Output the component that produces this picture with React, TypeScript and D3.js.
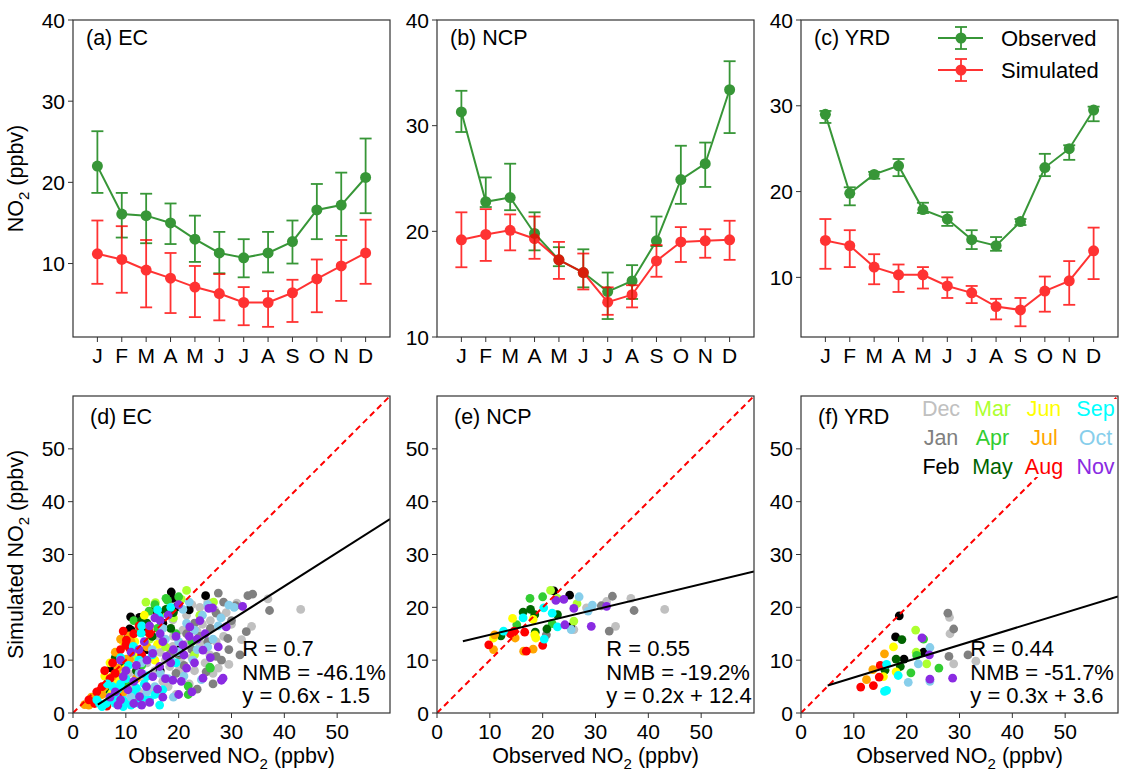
import * as d3 from "d3";

const FONT = "'Liberation Sans', Arial, Helvetica, sans-serif";

// ---- top row: monthly means with error bars, [mean, low, high] ----
const monthTicks = ["J", "F", "M", "A", "M", "J", "J", "A", "S", "O", "N", "D"];

const ecObserved = [
  [22.0, 18.7, 26.3], [16.1, 13.2, 18.7], [15.9, 12.5, 18.6], [15.0, 12.4, 17.4],
  [13.0, 10.2, 15.9], [11.3, 8.8, 13.9], [10.7, 8.3, 13.0], [11.3, 8.9, 13.9],
  [12.7, 10.0, 15.3], [16.6, 13.0, 19.8], [17.2, 13.4, 21.2], [20.6, 16.2, 25.4],
];
const ecSimulated = [
  [11.2, 7.5, 15.3], [10.5, 6.4, 14.6], [9.2, 4.6, 12.9], [8.2, 3.9, 11.3],
  [7.1, 3.4, 9.7], [6.3, 3.0, 8.7], [5.2, 2.4, 7.1], [5.2, 2.2, 6.6],
  [6.4, 2.8, 8.0], [8.1, 4.0, 10.5], [9.7, 5.4, 12.9], [11.3, 7.5, 15.4],
];
const ncpObserved = [
  [31.3, 29.4, 33.3], [22.8, 22.3, 25.1], [23.2, 22.0, 26.4], [19.8, 18.2, 21.8],
  [17.3, 16.7, 18.5], [16.1, 14.7, 18.3], [14.3, 11.7, 16.1], [15.3, 13.6, 16.8],
  [19.1, 18.6, 21.4], [24.9, 22.6, 28.1], [26.4, 24.2, 28.4], [33.4, 29.3, 36.1],
];
const ncpSimulated = [
  [19.2, 16.6, 21.8], [19.7, 17.2, 22.1], [20.1, 18.2, 21.6], [19.3, 17.4, 21.4],
  [17.3, 15.5, 19.0], [16.1, 14.5, 17.9], [13.3, 12.1, 14.7], [14.0, 12.8, 14.9],
  [17.2, 15.7, 18.7], [19.0, 17.1, 20.4], [19.1, 17.5, 20.2], [19.2, 17.3, 21.0],
];
const yrdObserved = [
  [29.0, 28.0, 29.4], [19.8, 18.4, 20.5], [22.0, 21.5, 22.3], [23.0, 21.8, 23.8],
  [17.9, 17.5, 18.7], [16.8, 16.0, 17.6], [14.4, 13.3, 15.5], [13.7, 13.1, 14.7],
  [16.5, 16.1, 16.8], [22.8, 21.8, 24.4], [25.0, 23.7, 25.4], [29.5, 28.2, 29.9],
];
const yrdSimulated = [
  [14.3, 11.0, 16.8], [13.7, 11.2, 15.5], [11.2, 9.2, 12.7], [10.3, 8.3, 11.5],
  [10.3, 8.7, 11.2], [9.0, 7.6, 10.0], [8.2, 7.0, 9.0], [6.6, 5.1, 7.5],
  [6.2, 4.3, 7.6], [8.4, 6.0, 10.1], [9.6, 6.8, 11.9], [13.1, 9.8, 15.8],
];

// ---- bottom row: scatter, [monthIndex, observed, simulated] ----
const monthNames = ["Dec", "Jan", "Feb", "Mar", "Apr", "May", "Jun", "Jul", "Aug", "Sep", "Oct", "Nov"];
const monthColors = [
  "#c0c0c0", "#808080", "#000000", "#adff2f", "#32cd32", "#006400",
  "#ffff00", "#ffa500", "#ff0000", "#00ffff", "#87ceeb", "#8a2be2",
];

const ecScatter = [
  [0, 43.1, 19.6], [0, 36.9, 21.6], [0, 33.8, 16.4], [0, 31.9, 13.9], [0, 28.1, 18.2], [0, 27.1, 13.5],
  [0, 25.9, 11.0], [0, 24.0, 13.2], [0, 18.9, 17.6], [0, 20.8, 15.7], [0, 22.5, 20.5], [0, 25.5, 21.0],
  [0, 30.0, 16.8], [0, 29.5, 9.2], [0, 26.5, 7.5], [0, 23.0, 8.0], [0, 20.5, 10.5], [0, 18.3, 8.8],
  [0, 15.8, 3.7], [0, 13.2, 1.8], [0, 12.0, 6.9], [0, 8.2, 6.2], [0, 7.6, 8.9], [0, 18.9, 12.6],
  [0, 16.5, 11.5], [0, 21.5, 18.5], [0, 28.5, 14.5], [0, 24.5, 16.8], [0, 31.0, 20.8], [0, 17.0, 6.0],
  [0, 14.0, 9.5], [0, 22.0, 5.5], [0, 19.5, 3.5], [0, 26.8, 19.5],
  [0, 9.5, 3.5], [0, 11.0, 5.0], [0, 12.5, 4.0], [0, 13.5, 6.5], [0, 14.5, 4.5], [0, 15.5, 8.0],
  [0, 17.5, 10.0], [0, 19.0, 14.5], [0, 20.0, 8.0], [0, 21.5, 13.0], [0, 22.5, 10.5], [0, 23.5, 15.5],
  [0, 25.0, 9.5], [0, 26.0, 17.5], [0, 16.5, 14.0], [0, 18.0, 5.0], [0, 10.5, 7.5], [0, 14.0, 12.5],
  [0, 27.5, 8.5], [0, 29.0, 19.0], [0, 24.0, 20.0], [0, 12.0, 3.0],
  [1, 33.1, 22.2], [1, 37.2, 19.4], [1, 31.6, 11.0], [1, 27.5, 22.7], [1, 30.8, 20.3], [1, 27.1, 18.9],
  [1, 32.8, 15.4], [1, 29.3, 14.1], [1, 27.1, 10.7], [1, 28.1, 10.0], [1, 25.2, 7.8], [1, 34.0, 22.5],
  [1, 24.0, 14.5], [1, 22.5, 12.0], [1, 21.0, 9.0], [1, 26.0, 16.0], [1, 19.5, 7.5], [1, 29.5, 12.0],
  [1, 23.5, 4.5], [1, 28.5, 21.0], [1, 20.0, 11.0], [1, 23.0, 17.0], [1, 25.5, 13.5], [1, 26.5, 5.5],
  [1, 30.0, 17.5], [1, 18.5, 11.5], [1, 21.5, 15.0],
  [2, 18.6, 22.9], [2, 10.9, 18.2], [2, 10.7, 15.9], [2, 25.1, 22.2], [2, 18.9, 21.7], [2, 7.3, 8.5],
  [2, 12.6, 18.1], [2, 11.0, 15.7], [2, 15.5, 19.5], [2, 20.5, 12.5], [2, 17.0, 17.0], [2, 14.0, 12.0],
  [2, 22.0, 19.5], [2, 16.5, 8.0], [2, 19.5, 20.0], [2, 13.5, 15.5],
  [3, 21.5, 23.2], [3, 13.8, 21.0], [3, 26.6, 21.0], [3, 15.6, 20.9], [3, 19.0, 18.0], [3, 14.5, 14.0],
  [3, 9.0, 7.0], [3, 24.0, 18.5], [3, 6.5, 4.0], [3, 12.0, 10.5], [3, 23.0, 11.0], [3, 17.5, 12.5],
  [3, 20.5, 21.5], [3, 16.5, 18.5], [3, 10.5, 12.5],
  [4, 14.4, 19.3], [4, 17.6, 21.7], [4, 20.0, 22.0], [4, 21.8, 3.5], [4, 25.9, 8.7], [4, 17.9, 21.3],
  [4, 12.6, 15.7], [4, 26.0, 8.5], [4, 21.8, 5.1], [4, 11.5, 17.5], [4, 16.0, 16.0], [4, 8.5, 11.0],
  [4, 19.5, 15.0], [4, 13.0, 9.0], [4, 22.5, 13.5], [4, 10.0, 5.5], [4, 15.5, 20.5], [4, 18.5, 19.5],
  [5, 16.3, 19.1], [5, 17.6, 19.6], [5, 5.7, 4.3], [5, 5.8, 4.4], [5, 13.0, 17.5], [5, 10.5, 14.5],
  [5, 8.0, 10.5], [5, 15.0, 14.5], [5, 18.5, 16.0], [5, 12.0, 8.0], [5, 20.0, 11.5], [5, 19.0, 19.0],
  [5, 14.0, 17.0], [5, 9.5, 9.0], [5, 7.0, 5.0],
  [6, 14.5, 16.3], [6, 5.1, 3.8], [6, 11.7, 13.5], [6, 9.5, 13.5], [6, 7.0, 9.5], [6, 13.5, 18.5],
  [6, 4.0, 3.0], [6, 16.0, 13.0], [6, 8.5, 6.0], [6, 11.0, 4.0], [6, 6.0, 7.0], [6, 15.5, 10.0],
  [6, 3.5, 1.8], [6, 10.0, 8.5], [6, 5.5, 4.5], [6, 7.5, 4.0], [6, 12.5, 11.5],
  [7, 10.6, 14.6], [7, 10.1, 10.2], [7, 2.2, 1.6], [7, 10.4, 12.9], [7, 10.7, 10.1], [7, 9.0, 14.0],
  [7, 3.0, 1.5], [7, 7.5, 7.0], [7, 5.5, 3.5], [7, 12.0, 6.5], [7, 8.0, 11.5], [7, 14.0, 12.5],
  [7, 6.5, 2.0], [7, 9.5, 4.0], [7, 3.5, 3.0], [7, 4.5, 2.0], [7, 6.0, 5.0], [7, 8.5, 8.5],
  [7, 11.0, 13.5],
  [8, 10.0, 12.9], [8, 10.7, 12.3], [8, 14.5, 15.0], [8, 6.4, 1.3], [8, 4.1, 1.8], [8, 14.4, 15.4],
  [8, 10.1, 13.8], [8, 9.5, 15.5], [8, 11.5, 15.0], [8, 12.5, 16.5], [8, 7.5, 9.5], [8, 5.5, 5.0],
  [8, 13.0, 11.0], [8, 8.5, 3.0], [8, 16.0, 18.5], [8, 6.0, 8.0], [8, 11.0, 2.5], [8, 4.5, 4.0],
  [8, 3.0, 2.5], [8, 7.0, 6.5], [8, 8.0, 7.5], [8, 9.0, 12.0],
  [9, 16.3, 18.2], [9, 9.5, 2.4], [9, 12.0, 4.7], [9, 12.9, 15.1], [9, 6.3, 1.8], [9, 9.5, 1.2],
  [9, 7.6, 3.1], [9, 11.4, 12.6], [9, 17.0, 4.4], [9, 16.4, 1.5], [9, 4.5, 2.5], [9, 8.5, 4.5],
  [9, 14.0, 7.0], [9, 10.5, 9.0], [9, 13.5, 3.0], [9, 11.0, 1.5], [9, 6.5, 5.5], [9, 15.0, 11.0],
  [9, 18.5, 20.0], [9, 19.5, 9.5], [9, 8.0, 1.8], [9, 12.5, 10.0], [9, 5.5, 1.2], [9, 7.0, 2.5],
  [9, 8.0, 3.5], [9, 9.0, 5.5], [9, 10.0, 2.0], [9, 11.5, 3.5], [9, 12.5, 1.8], [9, 13.5, 5.5],
  [9, 14.5, 2.5], [9, 15.5, 3.5], [9, 10.0, 6.5], [9, 7.5, 5.0], [9, 5.0, 1.8], [9, 13.0, 16.5],
  [9, 16.0, 19.5], [9, 9.0, 10.5],
  [10, 24.3, 6.3], [10, 20.8, 19.6], [10, 29.5, 20.4], [10, 23.0, 15.7], [10, 22.7, 10.0], [10, 19.9, 11.6],
  [10, 21.5, 17.0], [10, 25.5, 12.5], [10, 17.5, 14.0], [10, 15.5, 5.0], [10, 19.0, 3.0], [10, 12.5, 7.5],
  [10, 27.5, 16.5], [10, 22.0, 21.0], [10, 14.0, 4.0], [10, 18.0, 6.5], [10, 16.5, 7.5], [10, 18.5, 10.0],
  [10, 20.0, 13.5], [10, 21.0, 7.0], [10, 23.5, 12.0], [10, 24.5, 18.5], [10, 17.0, 16.0], [10, 13.0, 9.5],
  [10, 11.0, 3.0], [10, 15.0, 12.0], [10, 26.5, 14.0], [10, 25.5, 20.5], [10, 28.0, 18.0], [10, 30.5, 20.0],
  [11, 26.4, 19.9], [11, 29.0, 16.3], [11, 28.4, 6.6], [11, 32.1, 20.2], [11, 25.7, 19.8], [11, 28.1, 6.2],
  [11, 24.6, 6.6], [11, 22.1, 16.3], [11, 24.6, 11.9], [11, 20.8, 12.9], [11, 9.5, 6.9], [11, 10.4, 4.4],
  [11, 12.6, 3.1], [11, 13.9, 5.0], [11, 15.1, 6.9], [11, 16.4, 8.8], [11, 15.1, 11.3], [11, 17.7, 10.7],
  [11, 18.9, 6.2], [11, 14.5, 2.0], [11, 12.0, 9.0], [11, 16.5, 15.0], [11, 19.5, 14.5], [11, 11.0, 11.5],
  [11, 21.5, 8.5], [11, 18.0, 18.5], [11, 13.5, 13.5], [11, 8.0, 4.0], [11, 17.0, 3.0], [11, 22.5, 4.0],
  [11, 20.0, 20.5], [11, 23.5, 14.0], [11, 11.5, 1.8], [11, 15.5, 18.0], [11, 7.0, 3.0], [11, 9.0, 2.5],
  [11, 10.0, 8.0], [11, 11.5, 6.0], [11, 13.0, 7.5], [11, 14.0, 10.0], [11, 16.0, 4.5], [11, 17.5, 6.5],
  [11, 18.5, 9.5], [11, 19.0, 12.0], [11, 20.5, 6.0], [11, 21.0, 11.0], [11, 22.0, 14.5], [11, 23.0, 9.5],
  [11, 24.0, 17.5], [11, 25.0, 15.0], [11, 26.0, 10.5], [11, 12.5, 12.0], [11, 14.5, 16.5], [11, 17.0, 13.5],
  [11, 9.0, 10.0], [11, 8.5, 1.5], [11, 13.0, 1.5], [11, 20.0, 3.5], [11, 16.5, 17.5], [11, 27.5, 12.5],
];

const ncpScatter = [
  [0, 25.9, 15.8], [0, 28.3, 19.9], [0, 32.1, 21.1], [0, 33.8, 16.4], [0, 36.7, 21.7], [0, 43.1, 19.6],
  [1, 31.1, 20.3], [1, 33.2, 22.1], [1, 32.6, 15.5], [1, 37.3, 19.4], [1, 20.7, 14.8],
  [2, 22.1, 23.1], [2, 25.1, 22.3], [2, 25.3, 16.3],
  [3, 21.5, 23.2], [3, 22.8, 21.7], [3, 25.9, 17.4], [3, 26.5, 20.7],
  [4, 15.1, 16.7], [4, 17.6, 21.7], [4, 20.0, 22.0], [4, 21.8, 16.9],
  [5, 12.1, 14.6], [5, 16.3, 19.1], [5, 17.7, 19.6], [5, 18.5, 18.6], [5, 18.6, 15.3], [5, 20.8, 15.9],
  [5, 22.8, 18.6],
  [6, 10.7, 14.2], [6, 14.3, 17.9], [6, 18.5, 14.8], [6, 18.7, 14.2], [6, 18.2, 17.7],
  [7, 10.7, 12.0], [7, 14.8, 14.2], [7, 16.4, 11.7], [7, 18.2, 12.1], [7, 10.9, 14.8],
  [8, 9.8, 12.9], [8, 13.9, 15.0], [8, 14.6, 15.5], [8, 16.9, 11.7], [8, 20.0, 12.8], [8, 16.6, 15.3],
  [9, 12.6, 15.5], [9, 16.3, 18.0], [9, 20.3, 14.0], [9, 22.8, 16.3], [9, 21.8, 18.9], [9, 20.2, 19.9],
  [10, 26.9, 22.0], [10, 28.6, 19.3], [10, 29.4, 20.4], [10, 25.4, 15.8],
  [11, 22.5, 21.3], [11, 24.0, 21.5], [11, 25.9, 19.8], [11, 24.2, 16.7], [11, 29.2, 16.4], [11, 32.1, 20.2],
];

const yrdScatter = [
  [0, 28.1, 18.1], [0, 28.2, 15.0], [0, 28.9, 9.3], [0, 33.1, 9.8],
  [1, 27.8, 18.9], [1, 28.9, 15.9], [1, 28.0, 10.7], [1, 31.6, 11.0],
  [2, 18.6, 18.4], [2, 17.9, 14.4], [2, 19.5, 10.2], [2, 23.2, 11.5],
  [3, 21.7, 15.7], [3, 23.8, 9.3], [3, 21.8, 11.5],
  [4, 20.8, 7.6], [4, 21.9, 10.9], [4, 26.1, 8.5], [4, 23.2, 14.0],
  [5, 15.9, 8.1], [5, 18.0, 10.2], [5, 18.8, 8.8], [5, 19.1, 13.9],
  [6, 15.6, 6.9], [6, 17.5, 12.5], [6, 18.0, 7.8],
  [7, 12.4, 6.3], [7, 13.6, 8.2], [7, 15.8, 11.2],
  [8, 11.3, 4.9], [8, 13.7, 5.2], [8, 14.8, 6.8], [8, 15.0, 9.0],
  [9, 15.8, 4.1], [9, 16.2, 4.3], [9, 16.2, 9.2], [9, 18.4, 7.1],
  [10, 20.3, 5.8], [10, 22.2, 9.3], [10, 24.4, 12.4], [10, 24.4, 6.0],
  [11, 22.9, 14.2], [11, 24.3, 11.0], [11, 24.4, 6.4], [11, 28.7, 6.6],
];

// regression lines: [slope, intercept, first x]
const ecFit = [0.635, -1.4, 4.7];
const ncpFit = [0.24, 12.4, 4.9];
const yrdFit = [0.307, 3.65, 5.05];

const GREEN = "#228b22";
const RED = "#ff0000";
const TICK = 21;
const TEXT = 22;

function Sub2({ size }: { size: number }) {
  return (
    <>
      <tspan>NO</tspan>
      <tspan dy={size * 0.3} fontSize={size * 0.7}>2</tspan>
      <tspan dy={-size * 0.3}> (ppbv)</tspan>
    </>
  );
}

function MonthlyPanel({ left, top, width, height, yMin, obs, sim, label, legend, yTitle }: any) {
  const x = d3.scaleLinear().domain([-1, 12]).range([left, left + width]);
  const y = d3.scaleLinear().domain([yMin, 40]).range([top + height, top]);
  const line = d3.line<number[]>().x((d, i) => x(i)).y(d => y(d[0]));
  const series = [
    { data: obs, color: GREEN, op: 0.9 },
    { data: sim, color: RED, op: 0.8 },
  ];
  return (
    <g fontFamily={FONT}>
      {series.map((s, si) => (
        <g key={si} opacity={s.op}>
          {s.data.map((d: number[], i: number) => (
            <g key={i} stroke={s.color} strokeWidth={1.8}>
              <line x1={x(i)} x2={x(i)} y1={y(d[1])} y2={y(d[2])} />
              <line x1={x(i) - 6} x2={x(i) + 6} y1={y(d[1])} y2={y(d[1])} />
              <line x1={x(i) - 6} x2={x(i) + 6} y1={y(d[2])} y2={y(d[2])} />
            </g>
          ))}
          <path d={line(s.data) || ""} fill="none" stroke={s.color} strokeWidth={2} />
          {s.data.map((d: number[], i: number) => (
            <circle key={i} cx={x(i)} cy={y(d[0])} r={5.5} fill={s.color} />
          ))}
        </g>
      ))}
      <rect x={left} y={top} width={width} height={height} fill="none" stroke="#333" strokeWidth={1.2} />
      {[10, 20, 30, 40].filter(t => t >= yMin).map(t => (
        <g key={t}>
          <line x1={left - 5} x2={left} y1={y(t)} y2={y(t)} stroke="#333" />
          <text x={left - 8} y={y(t)} dy="0.36em" textAnchor="end" fontSize={TICK}>{t}</text>
        </g>
      ))}
      {monthTicks.map((m, i) => (
        <g key={i}>
          <line x1={x(i)} x2={x(i)} y1={top + height} y2={top + height + 5} stroke="#333" />
          <text x={x(i)} y={top + height + 26} textAnchor="middle" fontSize={TICK}>{m}</text>
        </g>
      ))}
      <text x={left + 13} y={top + 25} fontSize={TEXT - 0.5}>{label}</text>
      {yTitle && (
        <text transform={`translate(${left - 50},${top + height / 2}) rotate(-90)`} textAnchor="middle" fontSize={TEXT - 0.5}>
          <Sub2 size={TEXT - 0.5} />
        </text>
      )}
      {legend && (
        <g>
          {[{ name: "Observed", color: GREEN, op: 0.9, yy: top + 18 }, { name: "Simulated", color: RED, op: 0.8, yy: top + 50 }].map(l => (
            <g key={l.name}>
              <g opacity={l.op} stroke={l.color} strokeWidth={1.8}>
                <line x1={left + 137} x2={left + 182} y1={l.yy} y2={l.yy} strokeWidth={2} />
                <line x1={left + 160} x2={left + 160} y1={l.yy - 11} y2={l.yy + 11} />
                <line x1={left + 154} x2={left + 166} y1={l.yy - 11} y2={l.yy - 11} />
                <line x1={left + 154} x2={left + 166} y1={l.yy + 11} y2={l.yy + 11} />
                <circle cx={left + 160} cy={l.yy} r={5.5} fill={l.color} stroke="none" />
              </g>
              <text x={left + 200} y={l.yy} dy="0.36em" fontSize={TEXT}>{l.name}</text>
            </g>
          ))}
        </g>
      )}
    </g>
  );
}

function ScatterPanel({ left, top, size, points, fit, label, stats, yTitle, monthLegend }: any) {
  const x = d3.scaleLinear().domain([0, 60]).range([left, left + size]);
  const y = d3.scaleLinear().domain([0, 60]).range([top + size, top]);
  const [slope, icpt, x0] = fit;
  const clipId = "clip" + label.replace(/[^a-z]/gi, "");
  return (
    <g fontFamily={FONT}>
      <clipPath id={clipId}>
        <rect x={left} y={top} width={size} height={size} />
      </clipPath>
      <g clipPath={`url(#${clipId})`}>
        {points.map((p: number[], i: number) => (
          <circle key={i} cx={x(p[1])} cy={y(p[2])} r={4.4} fill={monthColors[p[0]]} />
        ))}
        <line x1={x(0)} y1={y(0)} x2={x(60)} y2={y(60)} stroke="#ff0000" strokeWidth={2} strokeDasharray="6,4" />
        <line x1={x(x0)} y1={y(slope * x0 + icpt)} x2={x(60)} y2={y(slope * 60 + icpt)} stroke="#000" strokeWidth={2} />
        {monthLegend && (
          <rect x={left + 118} y={top + 3} width={size - 120} height={78} fill="#fff" />
        )}
      </g>
      <rect x={left} y={top} width={size} height={size} fill="none" stroke="#333" strokeWidth={1.2} />
      {[0, 10, 20, 30, 40, 50].map(t => (
        <g key={t}>
          <line x1={left - 5} x2={left} y1={y(t)} y2={y(t)} stroke="#333" />
          <text x={left - 8} y={y(t)} dy="0.36em" textAnchor="end" fontSize={TICK}>{t}</text>
          <line x1={x(t)} x2={x(t)} y1={top + size} y2={top + size + 5} stroke="#333" />
          <text x={x(t)} y={top + size + 26} textAnchor="middle" fontSize={TICK}>{t}</text>
        </g>
      ))}
      <text x={left + 17} y={top + 28} fontSize={TEXT - 0.5}>{label}</text>
      {stats.map((s: string, i: number) => (
        <text key={i} x={left + size * 0.534} y={top + 260 + i * 23.5} fontSize={TEXT}>{s}</text>
      ))}
      <text x={left + size / 2} y={top + size + 50} textAnchor="middle" fontSize={TEXT - 0.5}>
        <tspan>Observed </tspan>
        <Sub2 size={TEXT - 0.5} />
      </text>
      {yTitle && (
        <text transform={`translate(${left - 50},${top + size / 2}) rotate(-90)`} textAnchor="middle" fontSize={TEXT - 0.5}>
          <tspan>Simulated </tspan>
          <Sub2 size={TEXT - 0.5} />
        </text>
      )}
      {monthLegend &&
        monthNames.map((m, i) => (
          <text
            key={m}
            x={left + 140 + Math.floor(i / 3) * 51.5}
            y={top + 20 + (i % 3) * 29}
            textAnchor="middle"
            fontSize={TEXT - 0.5}
            fill={monthColors[i]}
          >
            {m}
          </text>
        ))}
    </g>
  );
}

export default function App() {
  const lefts = [73, 437, 801];
  return (
    <svg width={1126} height={771} style={{ position: "absolute", left: 0, top: 0, background: "#fff" }}>
      <MonthlyPanel left={lefts[0]} top={20} width={317} height={317} yMin={0.95} obs={ecObserved} sim={ecSimulated} label="(a) EC" yTitle />
      <MonthlyPanel left={lefts[1]} top={20} width={317} height={317} yMin={10} obs={ncpObserved} sim={ncpSimulated} label="(b) NCP" />
      <MonthlyPanel left={lefts[2]} top={20} width={317} height={317} yMin={3.05} obs={yrdObserved} sim={yrdSimulated} label="(c) YRD" legend />
      <ScatterPanel left={lefts[0]} top={396} size={317} points={ecScatter} fit={ecFit} label="(d) EC"
        stats={["R = 0.7", "NMB = -46.1%", "y = 0.6x - 1.5"]} yTitle />
      <ScatterPanel left={lefts[1]} top={396} size={317} points={ncpScatter} fit={ncpFit} label="(e) NCP"
        stats={["R = 0.55", "NMB = -19.2%", "y = 0.2x + 12.4"]} />
      <ScatterPanel left={lefts[2]} top={396} size={317} points={yrdScatter} fit={yrdFit} label="(f) YRD"
        stats={["R = 0.44", "NMB = -51.7%", "y = 0.3x + 3.6"]} monthLegend />
    </svg>
  );
}
